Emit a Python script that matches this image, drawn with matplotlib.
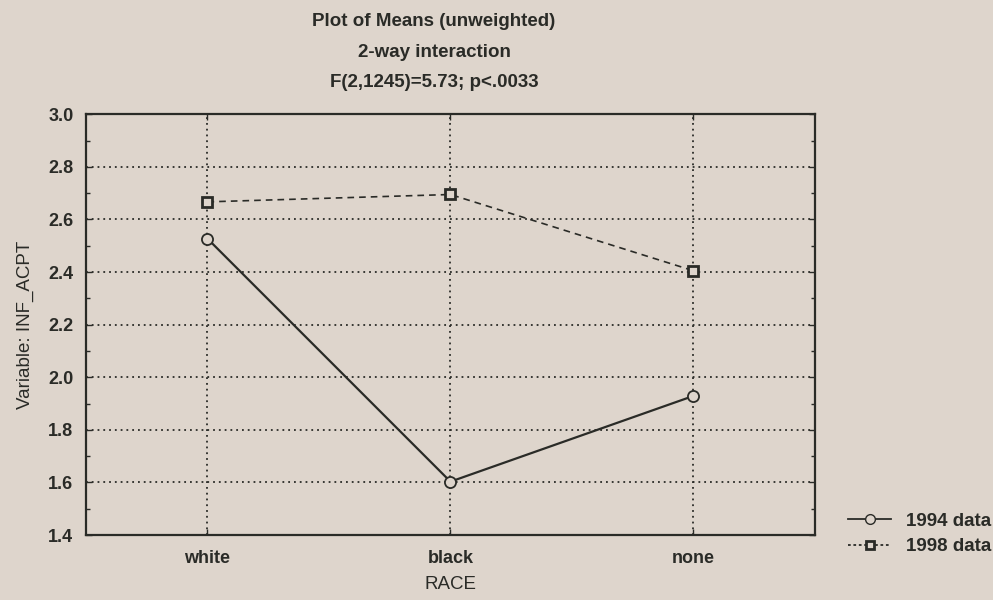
import matplotlib
matplotlib.use("Agg")
import matplotlib.pyplot as plt
from matplotlib.ticker import MultipleLocator, FormatStrFormatter
from matplotlib.lines import Line2D

# data
races = ["white", "black", "none"]
means_1994 = [2.527, 1.603, 1.929]
means_1998 = [2.667, 2.695, 2.405]
series_labels = ["1994 data", "1998 data"]

title_lines = ["Plot of Means (unweighted)", "2-way interaction", "F(2,1245)=5.73; p<.0033"]

bg = "#ded5cc"
ink = "#2a2b27"

plt.rcParams['font.family'] = ['Liberation Sans', 'DejaVu Sans']
plt.rcParams['font.weight'] = 'bold'

fig = plt.figure(figsize=(9.93, 6.0), dpi=100, facecolor=bg)
ax = fig.add_axes([0.0866, 0.1083, 0.7341, 0.7012], facecolor=bg)

x = list(range(len(races)))
ax.plot(x, means_1994, color=ink, lw=1.6, ls="-", marker="o", ms=8,
        mfc=bg, mec=ink, mew=1.3, zorder=3)
ax.plot(x, means_1998, color=ink, lw=1.2, ls=(0, (4, 3)), marker="s", ms=7,
        mfc=bg, mec=ink, mew=2.0, zorder=3)

ax.set_xlim(-0.5, 2.5)
ax.set_ylim(1.4, 3.0)
ax.set_xticks(x)
ax.set_xticklabels(races)
ax.yaxis.set_major_locator(MultipleLocator(0.2))
ax.yaxis.set_minor_locator(MultipleLocator(0.1))
ax.yaxis.set_major_formatter(FormatStrFormatter("%.1f"))

ax.grid(True, which="major", ls=(0, (1, 2.2)), lw=1.3, color=ink)
ax.tick_params(which="both", direction="in", top=True, right=True,
               colors=ink, labelsize=13, width=1.0)
ax.tick_params(which="major", length=4, pad=9)
ax.tick_params(which="minor", length=3)
ax.tick_params(axis="x", pad=11)
for s in ax.spines.values():
    s.set_color(ink)
    s.set_linewidth(1.6)

ax.set_ylabel("Variable: INF_ACPT", fontsize=13.5, color=ink, labelpad=10)
ax.set_xlabel("RACE", fontsize=13.5, color=ink, labelpad=6)

baselines = [0.957, 0.9045, 0.8555]
for t, yy in zip(title_lines, baselines):
    fig.text(0.437, yy, t, ha="center", va="baseline", fontsize=13.5, color=ink)

handles = [
    Line2D([], [], color=ink, lw=1.3, ls="-", marker="o", ms=7, mfc=bg, mec=ink),
    Line2D([], [], color=ink, lw=1.3, ls=(0, (1.5, 1.5)), marker="s", ms=6,
           mfc=bg, mec=ink, mew=2.0),
]
fig.legend(handles, series_labels, loc="center left",
           bbox_to_anchor=(848 / 993, 1 - 534 / 600),
           frameon=False, fontsize=13.5, labelcolor=ink, handlelength=2.3,
           handletextpad=0.8, labelspacing=0.45, borderpad=0, borderaxespad=0)

fig.savefig("out.png", dpi=100, facecolor=bg)
